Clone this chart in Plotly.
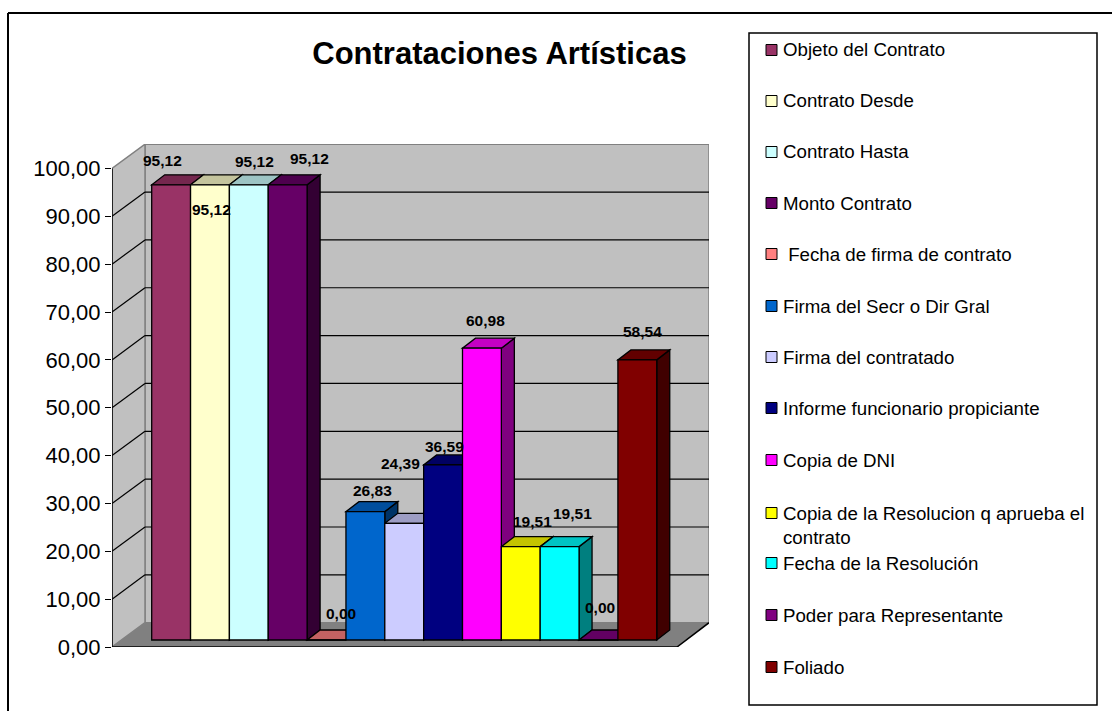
import plotly.graph_objects as go

categories = ["Objeto del Contrato", "Contrato Desde", "Contrato Hasta", "Monto Contrato",
              " Fecha de firma de contrato", "Firma del Secr o Dir Gral", "Firma del contratado",
              "Informe funcionario propiciante", "Copia de DNI",
              "Copia de la Resolucion q aprueba el<br>contrato", "Fecha de la Resolución",
              "Poder para Representante", "Foliado"]
values = [95.12, 95.12, 95.12, 95.12, 0.00, 26.83, 24.39, 36.59, 60.98, 19.51, 19.51, 0.00, 58.54]
colors = ["#993366", "#FFFFCC", "#CCFFFF", "#660066", "#FF8080", "#0066CC", "#CCCCFF",
          "#000080", "#FF00FF", "#FFFF00", "#00FFFF", "#800080", "#800000"]
label_shift_x = [-8.4, 2, 5.2, 22.3, 14.2, 7.3, -4, 1, 4, 12, 12.4, 1.5, 4.7]
label_shift_y = [-24.8, 24.2, -23.8, -26.8, -27, -21.6, -60, -18, -28, -25.6, -33.6, -33, -28]
legend_y = [50, 101, 152, 203, 254, 306, 357, 408, 460, 513, 563, 615, 667]
y_ticks = [0, 10, 20, 30, 40, 50, 60, 70, 80, 90, 100]

W, H = 1112, 711
FONT = "Liberation Sans"
INK = "#000000"

# pixel geometry of the pseudo-3D frame, expressed as axis units
PX_PER_CAT = 38.85
PX_PER_VAL = 4.785
X_LEFT_PX, X_RIGHT_PX = 112, 709
Y_ZERO_PX, Y_TOP_PX = 647, 144
BAR0_PX = 151.7


def px2cat(p):
    return (p - BAR0_PX) / PX_PER_CAT - 0.5


x_range = [px2cat(X_LEFT_PX), px2cat(X_RIGHT_PX)]
y_max = (Y_ZERO_PX - Y_TOP_PX) / PX_PER_VAL
wall_dx = 33 / PX_PER_CAT
wall_dy = 24.3 / PX_PER_VAL
bar_dx = 13 / PX_PER_CAT
bar_dy = 10 / PX_PER_VAL
base = 7 / PX_PER_VAL
half = 0.5


def shade(hex_color, f):
    r, g, b = [int(hex_color[i:i + 2], 16) for i in (1, 3, 5)]
    return "rgb(%d,%d,%d)" % (r * f, g * f, b * f)


def poly(points, fill, line="#000000", width=1.3):
    path = "M " + " L ".join("%.4f,%.4f" % p for p in points) + " Z"
    return dict(type="path", xref="x", yref="y", path=path, fillcolor=fill,
                line=dict(color=line, width=width), layer="below")


def seg(p, q, color=INK, width=1.2):
    return dict(type="line", xref="x", yref="y", x0=p[0], y0=p[1], x1=q[0], y1=q[1],
                line=dict(color=color, width=width), layer="below")


x0, x1 = x_range
front_right = px2cat(677)
top_val = 100
shapes = []
# floor
shapes.append(poly([(x0, 0), (front_right, 0), (x1, wall_dy), (x0 + wall_dx, wall_dy)],
                   "#808080", "#808080", 1))
# walls
shapes.append(poly([(x0 + wall_dx, wall_dy), (x1, wall_dy), (x1, top_val + wall_dy),
                    (x0 + wall_dx, top_val + wall_dy)], "#C0C0C0", "#808080", 1.5))
shapes.append(poly([(x0, 0), (x0 + wall_dx, wall_dy), (x0 + wall_dx, top_val + wall_dy),
                    (x0, top_val)], "#C0C0C0", "#808080", 1.5))
# gridlines
for t in y_ticks[1:-1]:
    shapes.append(seg((x0, t), (x0 + wall_dx, t + wall_dy)))
    shapes.append(seg((x0 + wall_dx, t + wall_dy), (x1, t + wall_dy)))
shapes.append(seg((x0, 0), (front_right, 0), INK, 1.5))
shapes.append(seg((front_right, 0), (x1, wall_dy), INK, 1.5))

# depth faces of the bars, left to right
for i, (v, c) in enumerate(zip(values, colors)):
    l, r = i - half, i + half
    t = base + v
    if v > 0:
        shapes.append(poly([(r, base), (r + bar_dx, base + bar_dy), (r + bar_dx, t + bar_dy), (r, t)],
                           shade(c, 0.5)))
    shapes.append(poly([(l, t), (r, t), (r + bar_dx, t + bar_dy), (l + bar_dx, t + bar_dy)],
                       shade(c, 0.77)))


# chart frame + legend (page coordinates)
def fx(p):
    return p / W


def fy(p):
    return 1 - p / H


shapes.append(dict(type="line", xref="paper", yref="paper", x0=fx(8), x1=fx(8), y0=fy(13), y1=0,
                   line=dict(color="#000000", width=2)))
shapes.append(dict(type="line", xref="paper", yref="paper", x0=fx(8), x1=1, y0=fy(13), y1=fy(13),
                   line=dict(color="#000000", width=2)))
shapes.append(dict(type="rect", xref="paper", yref="paper", x0=fx(749), x1=fx(1097),
                   y0=fy(705), y1=fy(33), line=dict(color="#000000", width=1.5),
                   fillcolor="#FFFFFF"))

annotations = []
for i, (name, c, ly) in enumerate(zip(categories, colors, legend_y)):
    shapes.append(dict(type="rect", xref="paper", yref="paper", x0=fx(766), x1=fx(777),
                       y0=fy(ly + 5.5), y1=fy(ly - 5.5), fillcolor=c,
                       line=dict(color="#000000", width=1)))
    two_lines = "<br>" in name
    annotations.append(dict(xref="paper", yref="paper", x=fx(781),
                            y=fy(ly + 12 if two_lines else ly), xanchor="left", yanchor="middle",
                            align="left", showarrow=False,
                            text=name.replace(" ", "&nbsp;", 1) if name.startswith(" ") else name,
                            font=dict(family=FONT, size=18.7, color="#000000")))

for i, v in enumerate(values):
    annotations.append(dict(xref="x", yref="y", x=i, y=base + v, xshift=label_shift_x[i],
                            yshift=-label_shift_y[i], showarrow=False,
                            xanchor="center", yanchor="middle",
                            text=("%.2f" % v).replace(".", ","),
                            font=dict(family=FONT, size=15.5, color="#000000", weight="bold")))

fig = go.Figure()
for i, (name, v, c) in enumerate(zip(categories, values, colors)):
    fig.add_trace(go.Bar(x=[i], y=[v], base=base, width=1, name=name.replace("<br>", " ").strip(),
                         marker=dict(color=c, line=dict(color="#000000", width=1.3)),
                         showlegend=False))

fig.update_layout(
    width=W, height=H, margin=dict(l=0, r=0, t=0, b=0, pad=0, autoexpand=False),
    paper_bgcolor="#FFFFFF", plot_bgcolor="rgba(0,0,0,0)",
    barmode="overlay", separators=",.", showlegend=False,
    title=dict(text="<b>Contrataciones Artísticas</b>", x=499.5 / W, y=fy(53), xanchor="center",
               yanchor="middle", font=dict(family=FONT, size=31, color="#000000")),
    xaxis=dict(domain=[fx(X_LEFT_PX), fx(X_RIGHT_PX)], range=x_range, visible=False, fixedrange=True),
    yaxis=dict(domain=[fy(Y_ZERO_PX), fy(Y_TOP_PX)], range=[0, y_max], tickvals=y_ticks,
               tickformat=".2f", ticks="outside", ticklen=6, tickwidth=1.2, tickcolor=INK,
               showgrid=False, zeroline=False, showline=False, anchor="x", fixedrange=True,
               tickfont=dict(family=FONT, size=22, color="#000000")),
    shapes=shapes + [dict(type="line", xref="x", yref="y", x0=x0, x1=x0, y0=0, y1=top_val,
                          line=dict(color=INK, width=1.5))],
    annotations=annotations,
)

fig.write_html("out.html", config=dict(displayModeBar=False),
               post_script="document.body.style.margin='0';document.body.style.overflow='hidden';")
